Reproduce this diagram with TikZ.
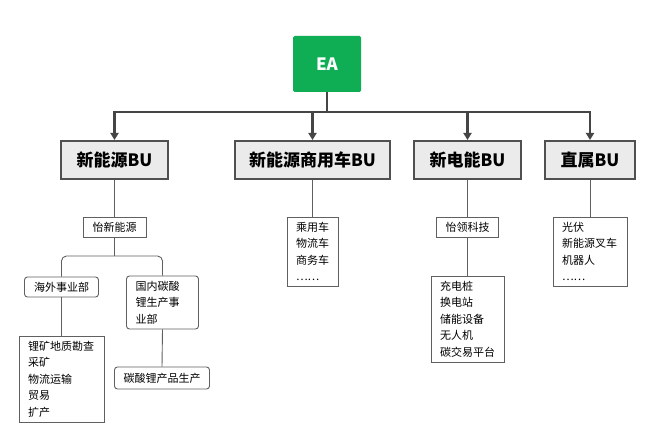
\documentclass[tikz,border=0pt]{standalone}
\usepackage{fontspec}
\setmainfont{Noto Sans CJK SC}
\usetikzlibrary{arrows.meta}
\definecolor{eagreen}{HTML}{0FAE55}
\definecolor{bufill}{HTML}{EBEBEB}
\definecolor{budraw}{HTML}{505050}
\definecolor{mainline}{HTML}{454545}
\definecolor{subline}{HTML}{606060}
\tikzset{
  eabox/.style={fill=eagreen, rounded corners=1.5pt, minimum width=68pt, minimum height=56pt, inner sep=0pt,
    text=white, font=\fontsize{17}{17}\selectfont\bfseries},
  bubox/.style={fill=bufill, draw=budraw, line width=2pt, minimum height=38pt, inner sep=0pt,
    font=\fontsize{17}{17}\selectfont\bfseries},
  smallbox/.style={draw=subline, line width=0.9pt, fill=white, minimum height=20pt, inner sep=0pt,
    font=\fontsize{11}{16}\selectfont},
  listbox/.style={draw=subline, line width=0.9pt, fill=white, inner xsep=9pt, inner ysep=0pt, align=left,
    font=\fontsize{11}{16.5}\selectfont},
  mainconn/.style={draw=mainline, line width=2.5pt, -{Triangle[length=7pt,width=8pt]}},
  mainstem/.style={draw=mainline, line width=2.5pt},
  subconn/.style={draw=subline, line width=0.9pt},
}
\begin{document}
\begin{tikzpicture}[x=1pt,y=-1pt]
\useasboundingbox (0,0) rectangle (669,441);
\fill[white] (0,0) rectangle (669,441);

% top
\node[eabox] (ea) at (327,64) {EA};
\node[bubox, minimum width=107pt] (bu1) at (114.5,160) {新能源BU};
\node[bubox, minimum width=155pt] (bu2) at (312.5,160) {新能源商用车BU};
\node[bubox, minimum width=107pt] (bu3) at (467.5,160) {新电能BU};
\node[bubox, minimum width=90pt] (bu4) at (590,160) {直属BU};

\coordinate (hub) at (327,112);
\draw[mainstem] (ea.south) -- (hub);
\draw[mainconn] (hub) -| (bu1.north);
\draw[mainconn] (hub) -| (bu2.north);
\draw[mainconn] (hub) -| (bu3.north);
\draw[mainconn] (hub) -| (bu4.north);

% BU1 subtree
\node[smallbox, minimum width=63pt] (yi1) at (114.5,227) {怡新能源};
\node[smallbox, minimum width=74pt, rounded corners=3pt] (hw) at (61.5,287) {海外事业部};
\node[listbox, text width=54pt, minimum height=53pt, rounded corners=3pt] (gn) at (162.5,302.5) {国内碳酸\\锂生产事\\业部};
\node[listbox, text width=67pt, minimum height=86pt] (lk) at (61.5,379) {锂矿地质勘查\\采矿\\物流运输\\贸易\\扩产};
\node[smallbox, minimum width=95pt, minimum height=22pt, rounded corners=3pt] (tc) at (162,378) {碳酸锂产品生产};

\coordinate (fork) at (114.5,256);
\draw[subconn] (bu1.south) -- (yi1.north);
\draw[subconn] (yi1.south) -- (fork);
\draw[subconn, rounded corners=5pt] (fork) -| (hw.north);
\draw[subconn, rounded corners=5pt] (fork) -| (gn.north);
\draw[subconn] (hw.south) -- (lk.north);
\draw[subconn] (gn.south) -- (tc.north);

% BU2 subtree
\node[listbox, text width=33pt, minimum height=69pt] (cy) at (312.5,251.5) {乘用车\\物流车\\商务车\\……};
\draw[subconn] (bu2.south) -- (cy.north);

% BU3 subtree
\node[smallbox, minimum width=62pt] (yl) at (467.5,227) {怡领科技};
\node[listbox, text width=55pt, minimum height=86pt] (cd) at (467.5,319) {充电桩\\换电站\\储能设备\\无人机\\碳交易平台};
\draw[subconn] (bu3.south) -- (yl.north);
\draw[subconn] (yl.south) -- (cd.north);

% BU4 subtree
\node[listbox, text width=56pt, minimum height=69pt] (gf) at (590,251.5) {光伏\\新能源叉车\\机器人\\……};
\draw[subconn] (bu4.south) -- (gf.north);
\end{tikzpicture}
\end{document}
